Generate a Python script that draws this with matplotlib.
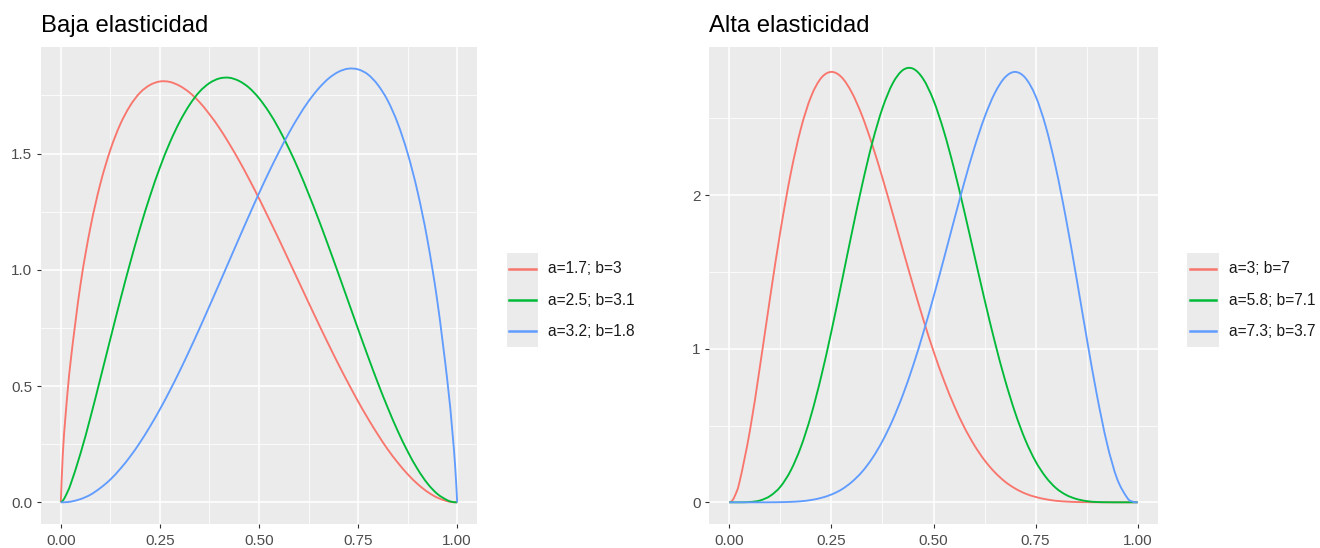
import matplotlib
matplotlib.use("Agg")
import matplotlib.pyplot as plt
from matplotlib.path import Path
from matplotlib.patches import PathPatch

plt.rcParams['font.family'] = ['Liberation Sans', 'DejaVu Sans']

x_vals = [0, 0.005, 0.0125, 0.025, 0.05, 0.075, 0.1, 0.125, 0.15, 0.175, 0.2, 0.225,
          0.25, 0.275, 0.3, 0.325, 0.35, 0.375, 0.4, 0.425, 0.45, 0.475, 0.5, 0.525,
          0.55, 0.575, 0.6, 0.625, 0.65, 0.675, 0.7, 0.725, 0.75, 0.775, 0.8, 0.825,
          0.85, 0.875, 0.9, 0.925, 0.95, 0.975, 0.9875, 0.995, 1.0]

# Baja elasticidad
baja_labels = ["a=1.7; b=3", "a=2.5; b=3.1", "a=3.2; b=1.8"]
baja_red = [0, 0.206, 0.385, 0.610, 0.941, 1.185, 1.372, 1.516, 1.626, 1.706, 1.762,
            1.795, 1.810, 1.808, 1.791, 1.762, 1.721, 1.669, 1.610, 1.542, 1.469, 1.390,
            1.307, 1.220, 1.132, 1.041, 0.950, 0.859, 0.769, 0.681, 0.595, 0.513, 0.434,
            0.360, 0.291, 0.227, 0.171, 0.121, 0.079, 0.045, 0.020, 0.005, 0.001, 0.0002, 0]
baja_green = [0, 0.007, 0.029, 0.079, 0.212, 0.367, 0.534, 0.703, 0.870, 1.030, 1.180,
              1.317, 1.440, 1.547, 1.637, 1.710, 1.766, 1.803, 1.823, 1.826, 1.812, 1.783,
              1.738, 1.679, 1.607, 1.523, 1.430, 1.327, 1.218, 1.103, 0.985, 0.865, 0.745,
              0.627, 0.513, 0.406, 0.307, 0.219, 0.143, 0.081, 0.036, 0.009, 0.002, 0.0003, 0]
baja_blue = [0, 0.0001, 0.0007, 0.003, 0.014, 0.033, 0.062, 0.098, 0.144, 0.197, 0.258,
             0.326, 0.400, 0.480, 0.565, 0.655, 0.748, 0.844, 0.941, 1.039, 1.137, 1.234,
             1.329, 1.420, 1.506, 1.587, 1.660, 1.725, 1.779, 1.822, 1.851, 1.865, 1.862,
             1.840, 1.795, 1.727, 1.630, 1.501, 1.336, 1.128, 0.864, 0.526, 0.311, 0.152, 0]

# Alta elasticidad
alta_labels = ["a=3; b=7", "a=5.8; b=7.1", "a=7.3; b=3.7"]
alta_red = [0, 0.006, 0.037, 0.135, 0.463, 0.888, 1.339, 1.767, 2.138, 2.433, 2.642,
            2.764, 2.803, 2.768, 2.668, 2.518, 2.328, 2.112, 1.881, 1.645, 1.413, 1.191,
            0.984, 0.798, 0.633, 0.491, 0.372, 0.274, 0.196, 0.135, 0.090, 0.057, 0.035,
            0.020, 0.010, 0.005, 0.002, 0.001, 0.0002, 0, 0, 0, 0, 0, 0]
alta_green = [0, 0, 0, 0.0001, 0.002, 0.012, 0.042, 0.102, 0.206, 0.360, 0.566,
              0.821, 1.115, 1.433, 1.756, 2.065, 2.342, 2.567, 2.728, 2.815, 2.824, 2.756,
              2.618, 2.420, 2.176, 1.900, 1.610, 1.321, 1.047, 0.799, 0.584, 0.406, 0.267,
              0.165, 0.093, 0.048, 0.022, 0.008, 0.002, 0.0005, 0, 0, 0, 0, 0]
alta_blue = [0, 0, 0, 0, 0, 0, 0.0003, 0.001, 0.003, 0.007, 0.015,
             0.029, 0.051, 0.084, 0.133, 0.199, 0.287, 0.399, 0.536, 0.700, 0.890, 1.104,
             1.337, 1.582, 1.833, 2.079, 2.308, 2.507, 2.664, 2.767, 2.803, 2.764, 2.646,
             2.448, 2.175, 1.841, 1.466, 1.075, 0.703, 0.384, 0.152, 0.028, 0.005, 0.0004, 0]

baja_yticks = [0.0, 0.5, 1.0, 1.5]
baja_yticklabels = ["0.0", "0.5", "1.0", "1.5"]
alta_yticks = [0, 1, 2]
alta_yticklabels = ["0", "1", "2"]
x_ticks = [0, 0.25, 0.5, 0.75, 1.0]
x_ticklabels = ["0.00", "0.25", "0.50", "0.75", "1.00"]

colors = ["#F8766D", "#00BA38", "#619CFF"]
W, H = 1320, 548


def px_rect(x0, y0, x1, y1):
    return [x0 / W, 1 - y1 / H, (x1 - x0) / W, (y1 - y0) / H]


def smooth_path(xs, ys):
    # cubic curve through the read points (Catmull-Rom style handles)
    pts = list(zip(xs, ys))
    n = len(pts)
    verts = [pts[0]]
    codes = [Path.MOVETO]
    for i in range(n - 1):
        p0 = pts[max(i - 1, 0)]
        p1 = pts[i]
        p2 = pts[i + 1]
        p3 = pts[min(i + 2, n - 1)]
        c1 = (p1[0] + (p2[0] - p0[0]) / 6, p1[1] + (p2[1] - p0[1]) / 6)
        c2 = (p2[0] - (p3[0] - p1[0]) / 6, p2[1] - (p3[1] - p1[1]) / 6)
        verts += [c1, c2, p2]
        codes += [Path.CURVE4] * 3
    return Path(verts, codes)


def panel(fig, rect, title, series, labels, yticks, yticklabels, leg_rect, text_x):
    ax = fig.add_axes(px_rect(*rect))
    ax.set_facecolor("#EBEBEB")
    for s in ax.spines.values():
        s.set_visible(False)
    for ys, c in zip(series, colors):
        ax.add_patch(PathPatch(smooth_path(x_vals, ys), facecolor="none",
                               edgecolor=c, lw=1.35, joinstyle="round", zorder=3))
    ymax = max(max(s) for s in series)
    ax.set_xlim(-0.05, 1.05)
    ax.set_ylim(-0.05 * ymax, 1.05 * ymax)
    ax.set_xticks(x_ticks)
    ax.set_xticklabels(x_ticklabels)
    ax.set_yticks(yticks)
    ax.set_yticklabels(yticklabels)
    ax.set_xticks([0.125, 0.375, 0.625, 0.875], minor=True)
    step = yticks[1] - yticks[0]
    ax.set_yticks([t + step / 2 for t in yticks if t + step / 2 < 1.05 * ymax], minor=True)
    ax.grid(which="major", color="white", lw=1.1)
    ax.grid(which="minor", color="white", lw=0.55)
    ax.set_axisbelow(True)
    ax.tick_params(which="major", length=3.2, width=0.8, color="#333333",
                   labelcolor="#4D4D4D", labelsize=11, pad=3)
    ax.tick_params(axis="x", which="major", pad=4)
    ax.tick_params(which="minor", length=0)
    fig.text(rect[0] / W, 1 - 32 / H, title, fontsize=17.2, color="black",
             ha="left", va="baseline")

    # legend keys
    lax = fig.add_axes(px_rect(*leg_rect))
    lax.set_facecolor("#EBEBEB")
    for s in lax.spines.values():
        s.set_visible(False)
    lax.set_xticks([])
    lax.set_yticks([])
    lax.set_xlim(0, 1)
    lax.set_ylim(0, len(labels))
    for i, (lab, c) in enumerate(zip(labels, colors)):
        yy = len(labels) - 0.5 - i
        lax.plot([0.08, 0.92], [yy, yy], color=c, lw=1.8)
        lax.text((text_x - leg_rect[0]) / (leg_rect[2] - leg_rect[0]), yy, lab,
                 transform=lax.transData, fontsize=11.2, color="#1A1A1A",
                 ha="left", va="center", clip_on=False)
    return ax


fig = plt.figure(figsize=(W / 100, H / 100), dpi=100)
panel(fig, (41, 47, 477, 524), "Baja elasticidad",
      [baja_red, baja_green, baja_blue], baja_labels,
      baja_yticks, baja_yticklabels, (507, 253, 538, 347), 548)
panel(fig, (709, 47, 1158, 524), "Alta elasticidad",
      [alta_red, alta_green, alta_blue], alta_labels,
      alta_yticks, alta_yticklabels, (1187, 253, 1219, 347), 1229)

fig.savefig("out.png", dpi=100)
plt.close(fig)
